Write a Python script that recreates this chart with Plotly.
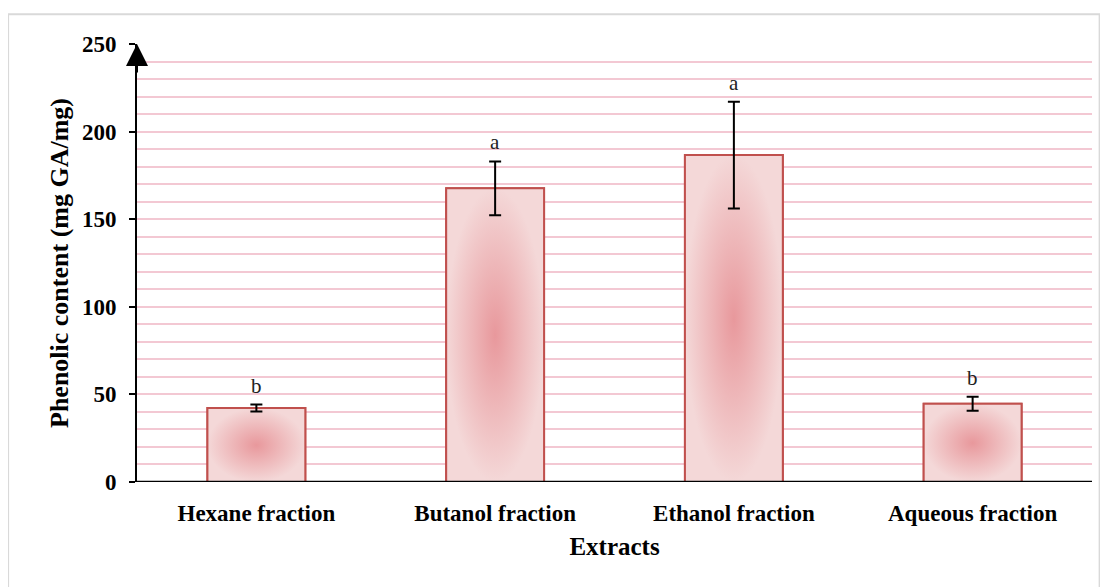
import plotly.graph_objects as go

categories = ["Hexane fraction", "Butanol fraction", "Ethanol fraction", "Aqueous fraction"]
means = [42.2, 167.6, 186.6, 44.6]
sds = [2.0, 15.4, 30.5, 4.0]
letters = ["b", "a", "a", "b"]
y_ticks = [0, 50, 100, 150, 200, 250]

BAR_W = 0.41
EDGE = "#c0504d"
FONT = "Liberation Serif"

fig = go.Figure()

# bar outlines (library bars)
fig.add_trace(go.Bar(
    x=list(range(len(categories))), y=means, width=BAR_W,
    marker=dict(color="rgba(0,0,0,0)", line=dict(color=EDGE, width=2)),
    showlegend=False, hoverinfo="skip",
))

# gradient fills built from the same data
for i, v in enumerate(means):
    x0, x1 = i - BAR_W / 2, i + BAR_W / 2
    fig.add_trace(go.Scatter(
        x=[x0, x0, x1, x1, x0], y=[0, v, v, 0, 0],
        mode="lines", fill="toself",
        fillgradient=dict(type="radial",
                          colorscale=[[0, "#e8989c"], [1, "#f4d8d8"]]),
        line=dict(color=EDGE, width=2),
        showlegend=False, hoverinfo="skip",
    ))

# error bars
fig.add_trace(go.Scatter(
    x=list(range(len(categories))), y=means, mode="markers",
    marker=dict(size=1, color="rgba(0,0,0,0)"),
    error_y=dict(type="data", array=sds, visible=True, color="black",
                 thickness=2, width=6),
    showlegend=False, hoverinfo="skip",
))

# significance letters
annotations = [
    dict(x=i, y=m + s, xref="x", yref="y", text=t, showarrow=False,
         yanchor="bottom", yshift=5,
         font=dict(family=FONT, size=21, color="#222"))
    for i, (m, s, t) in enumerate(zip(means, sds, letters))
]
# arrow head on top of the y axis
annotations.append(dict(
    x=0, y=1, xref="paper", yref="paper", text="", showarrow=True,
    ax=0, ay=30, arrowhead=2, arrowsize=2.2, arrowwidth=2, arrowcolor="black",
))

fig.update_layout(
    width=1108, height=587,
    margin=dict(l=129, r=24, t=36, b=113),
    paper_bgcolor="white", plot_bgcolor="white",
    font=dict(family=FONT, color="black"),
    annotations=annotations,
    xaxis=dict(
        range=[-0.5, 3.5], tickmode="array",
        tickvals=list(range(len(categories))),
        ticktext=["<b>%s</b>" % c for c in categories],
        tickfont=dict(size=23), showgrid=False, zeroline=False,
        showline=False, ticks="outside", ticklen=10, tickcolor="rgba(0,0,0,0)",
        title=dict(text="<b>Extracts</b>", font=dict(size=25), standoff=12),
    ),
    yaxis=dict(
        range=[0, 250], tickmode="array", tickvals=y_ticks,
        ticktext=["<b>%d</b>" % t for t in y_ticks],
        tickfont=dict(size=23), showgrid=True, gridcolor="#f3c8d3", gridwidth=2,
        minor=dict(dtick=10, showgrid=True, gridcolor="#f3c8d3", gridwidth=2),
        showline=True, linecolor="black", linewidth=2,
        ticks="outside", ticklen=6, tickcolor="black", tickwidth=1.5,
        ticklabelstandoff=8,
        zeroline=False,
        title=dict(text="<b>Phenolic content (mg GA/mg)</b>", font=dict(size=26), standoff=6),
    ),
    shapes=[
        dict(type="line", xref="paper", yref="y", x0=0, x1=1, y0=0, y1=0,
             line=dict(color="black", width=2.5)),
        dict(type="rect", xref="paper", yref="paper", x0=-0.135, x1=1.008,
             y0=-0.26, y1=1.068, line=dict(color="#d9d9d9", width=2),
             fillcolor="rgba(0,0,0,0)", layer="below"),
    ],
    bargap=0.5,
)

fig.write_html("out.html")
